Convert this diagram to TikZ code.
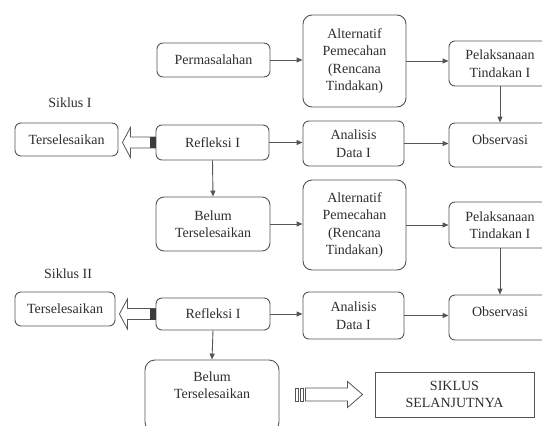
\documentclass[tikz,border=0pt]{standalone}
\usepackage{fontspec}
\setmainfont{Liberation Serif}
\usetikzlibrary{calc,arrows.meta}
\definecolor{ink}{HTML}{2E2E2E}
\definecolor{edge}{HTML}{555555}
\tikzset{
  box/.style={draw=edge,line width=0.9pt,rounded corners=6pt,align=center,text=ink,inner sep=0pt,minimum width=#1},
  flow/.style={-{Triangle[length=6pt,width=5pt]},edge,line width=0.9pt},
  hollow/.style={draw=edge,fill=white,line width=0.8pt,line join=miter},
}
\begin{document}
\begin{tikzpicture}[x=1pt,y=-1pt,font=\fontsize{14}{17.5}\selectfont]
\clip (0,0) rectangle (542,426);
\fill[white] (0,0) rectangle (542,426);
% siklus I
\node[box=113,minimum height=34] (perm) at (213.5,60) {Permasalahan};
\node[box=103,minimum height=92,rounded corners=9pt] (alt1) at (354.5,61) {Alternatif\\Pemecahan\\(Rencana\\Tindakan)};
\node[box=102,minimum height=45] (pel1) at (500,63.5) {Pelaksanaan\\Tindakan I};
\node[box=102,minimum height=44,text depth=11pt] (obs1) at (500,145) {Observasi};
\node[box=101,minimum height=45] (ana1) at (353.5,143.5) {Analisis\\Data I};
\node[box=113,minimum height=35] (refl1) at (212.5,142.5) {Refleksi I};
\node[box=103,minimum height=33] (ters1) at (66.5,139.5) {Terselesaikan};
\node[text=ink] (sik1) at (70,103) {Siklus I};
% siklus II
\node[box=114,minimum height=54,rounded corners=8pt] (belum1) at (213,224) {Belum\\Terselesaikan};
\node[box=103,minimum height=90,rounded corners=9pt] (alt2) at (354.5,225) {Alternatif\\Pemecahan\\(Rencana\\Tindakan)};
\node[box=102,minimum height=46] (pel2) at (500,225) {Pelaksanaan\\Tindakan I};
\node[box=102,minimum height=45,text depth=11pt] (obs2) at (500,317.5) {Observasi};
\node[box=101,minimum height=47] (ana2) at (353.5,315.5) {Analisis\\Data I};
\node[box=114,minimum height=32] (refl2) at (213,314) {Refleksi I};
\node[box=100,minimum height=34] (ters2) at (65,309) {Terselesaikan};
\node[text=ink] (sik2) at (68,274) {Siklus II};
\node[box=134,minimum height=72,rounded corners=10pt,text depth=22pt] (belum2) at (212,396) {Belum\\Terselesaikan};
\node[box=159,minimum height=45,rounded corners=0pt] (next) at (454.5,394.5) {SIKLUS\\SELANJUTNYA};
% panah
\draw[flow] (perm.east) -- (perm.east -| alt1.west);
\draw[flow] (alt1.east) -- (alt1.east -| pel1.west);
\draw[flow] (pel1.south) -- (obs1.north);
\draw[flow] (refl1.east) -- (refl1.east -| ana1.west);
\draw[flow] (ana1.east) -- (ana1.east -| obs1.west);
\draw[flow] (refl1.south) -- (belum1.north);
\draw[flow] (belum1.east) -- (belum1.east -| alt2.west);
\draw[flow] (alt2.east) -- (alt2.east -| pel2.west);
\draw[flow] (pel2.south) -- (obs2.north);
\draw[flow] (refl2.east) -- (refl2.east -| ana2.west);
\draw[flow] (ana2.east) -- (ana2.east -| obs2.west);
\draw[flow] (refl2.south) -- (belum2.north);
% panah kosong ke terselesaikan
\coordinate (tip1) at ($(ters1.east |- refl1.west)+(4,0)$);
\draw[hollow] (tip1) -- ++(8,-15) -- ++(0,9.5) -- ($(refl1.west)+(0,-5.5)$) -- ++(0,11) -- ($(tip1)+(8,5.5)$) -- ++(0,9.5) -- cycle;
\fill[edge!70!black] ($(refl1.west)+(-6,-5.5)$) rectangle ($(refl1.west)+(0,5.5)$);
\coordinate (tip2) at ($(ters2.east |- refl2.west)+(4,0)$);
\draw[hollow] (tip2) -- ++(8,-15) -- ++(0,9.5) -- ($(refl2.west)+(0,-5.5)$) -- ++(0,11) -- ($(tip2)+(8,5.5)$) -- ++(0,9.5) -- cycle;
\fill[edge!70!black] ($(refl2.west)+(-6,-5.5)$) rectangle ($(refl2.west)+(0,5.5)$);
% panah ke siklus selanjutnya
\coordinate (tail3) at ($(belum2.east |- next.west)+(16,0)$);
\coordinate (tip3) at ($(next.west)+(-12,0)$);
\draw[hollow] (tip3) -- ++(-15,-13) -- ++(0,6.5) -- ($(tail3)+(10,-6.5)$) -- ++(0,13) -- ($(tip3)+(-15,6.5)$) -- ++(0,6.5) -- cycle;
\draw[hollow] ($(tail3)+(0,-6.5)$) rectangle ++(3,13);
\draw[hollow] ($(tail3)+(5,-6.5)$) rectangle ++(3,13);
\end{tikzpicture}
\end{document}
